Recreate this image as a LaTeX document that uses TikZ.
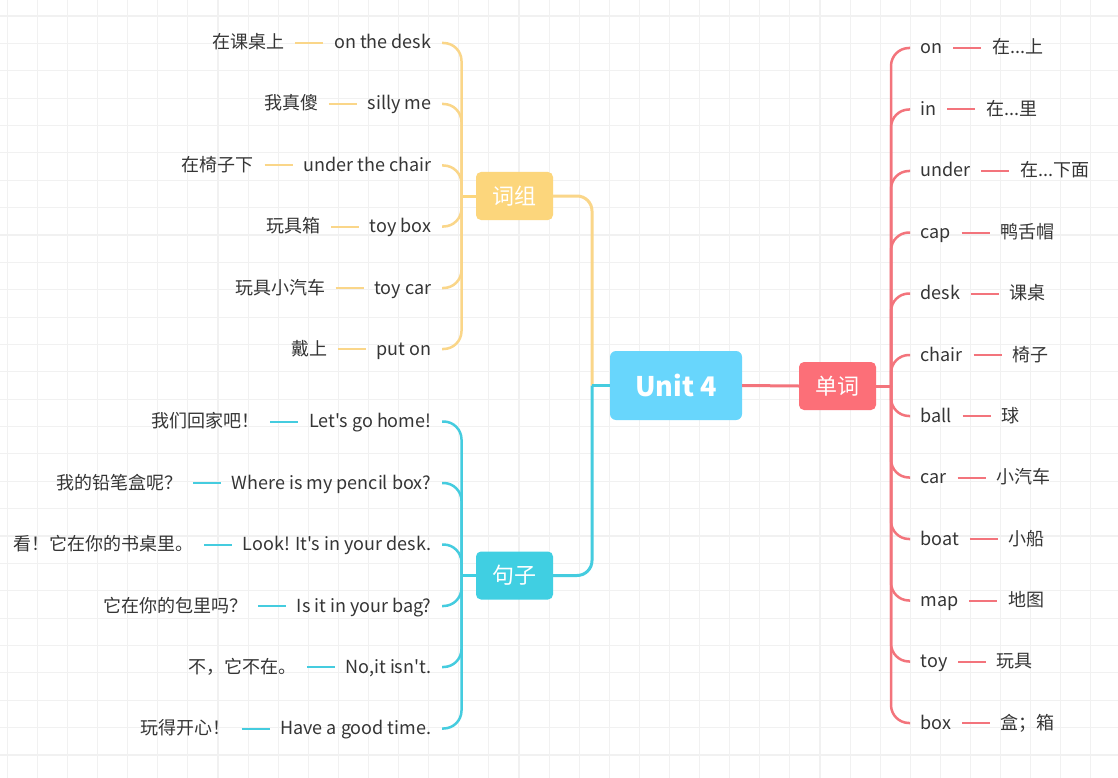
\documentclass[tikz,border=0pt]{standalone}
\usepackage{fontspec}
\newfontfamily\cjk{Noto Sans CJK SC}
\usetikzlibrary{positioning}
\definecolor{gridc}{HTML}{F1F1F1}
\definecolor{txt}{HTML}{353535}
\definecolor{ubox}{HTML}{68D6FC}
\definecolor{ybox}{HTML}{FCD67C}
\definecolor{tbox}{HTML}{40CFE2}
\definecolor{rbox}{HTML}{FC6F78}
\definecolor{yl}{HTML}{FAD689}
\definecolor{tl}{HTML}{45CCDF}
\definecolor{rl}{HTML}{F3747C}
\tikzset{
  gridline/.style={draw=gridc, line width=1.1pt},
  topbox/.style={rounded corners=5pt, text=white, inner sep=0pt, font=\cjk\fontsize{22}{22}\selectfont, minimum width=77pt, minimum height=48pt},
  leaf/.style={text=txt, font=\cjk\fontsize{18}{18}\selectfont, inner xsep=10.5pt, inner ysep=0pt, text height=15pt, text depth=3pt},
  mainline/.style={line width=3pt},
  brline/.style={line width=2.5pt, rounded corners=18pt},
  shortline/.style={line width=2pt},
}
\begin{document}
\begin{tikzpicture}[x=1pt,y=-1pt]
\useasboundingbox (0,0) rectangle (1118,778);
\fill[white] (0,0) rectangle (1118,778);
\foreach \i in {0,...,36} \draw[gridline] ({7.3+30.1*\i},0) -- ({7.3+30.1*\i},778);
\foreach \j in {0,...,28} \draw[gridline] (0,{16+27.37*\j}) -- (1118,{16+27.37*\j});

% central and main nodes
\node[rounded corners=6pt, fill=ubox, text=white, inner sep=0pt, minimum width=132pt, minimum height=69pt, font=\cjk\bfseries\fontsize{27}{27}\selectfont] (u) at (676,385.5) {Unit 4};
\node[topbox, fill=ybox] (cz) at (514.5,196) {词组};
\node[topbox, fill=tbox] (jz) at (514.5,575.5) {句子};
\node[topbox, fill=rbox] (dc) at (837.5,386) {单词};

\coordinate (jl) at (592,385.5);
\coordinate (jcz) at (461.5,196);
\coordinate (jjz) at (461.5,575.5);
\coordinate (jdc) at (891,386);

% main connectors
\draw[mainline, draw=yl, rounded corners=15pt] (jl) |- (cz.east);
\draw[mainline, draw=tl, rounded corners=15pt] (jl) |- (jz.east);
\draw[mainline, draw=tl] (u.west) -- (jl);
\draw[mainline, draw=rl] (u.east) -- (dc.west);
\draw[mainline, draw=ybox] (cz.west) -- (jcz);
\draw[mainline, draw=tbox] (jz.west) -- (jjz);
\draw[mainline, draw=rl] (dc.east) -- (jdc);

% left yellow leaves
\foreach \n/\y/\en/\cn in {1/43/{on the desk}/{在课桌上}, 2/104/{silly me}/{我真傻}, 3/165.5/{under the chair}/{在椅子下}, 4/226.5/{toy box}/{玩具箱}, 5/288/{toy car}/{玩具小汽车}, 6/349/{put on}/{戴上}}{
  \node[leaf, anchor=east] (ye\n) at (442,\y) {\en};
  \node[leaf, left=28pt of ye\n] (yc\n) {\cn};
  \draw[shortline, draw=yl] (yc\n) -- (ye\n);
  \draw[brline, draw=yl] (jcz) |- (ye\n.east);
}

% left teal leaves
\foreach \n/\y/\en/\cn in {1/421.5/{Let's go home!}/{我们回家吧！}, 2/483/{Where is my pencil box?}/{我的铅笔盒呢？}, 3/544.5/{Look! It's in your desk.}/{看！它在你的书桌里。}, 4/606/{Is it in your bag?}/{它在你的包里吗？}, 5/667/{No,it isn't.}/{不，它不在。}, 6/728.5/{Have a good time.}/{玩得开心！}}{
  \node[leaf, anchor=east] (te\n) at (442,\y) {\en};
  \node[leaf, left=28pt of te\n] (tc\n) {\cn};
  \draw[shortline, draw=tl] (tc\n) -- (te\n);
  \draw[brline, draw=tl] (jjz) |- (te\n.east);
}

% right red leaves
\foreach \n/\y/\en/\cn in {1/48/{on}/{在...上}, 2/109.5/{in}/{在...里}, 3/171/{under}/{在...下面}, 4/232.5/{cap}/{鸭舌帽}, 5/293.5/{desk}/{课桌}, 6/355/{chair}/{椅子}, 7/416/{ball}/{球}, 8/477.5/{car}/{小汽车}, 9/539/{boat}/{小船}, 10/600.5/{map}/{地图}, 11/661.5/{toy}/{玩具}, 12/723/{box}/{盒；箱}}{
  \node[leaf, anchor=west] (re\n) at (910,\y) {\en};
  \node[leaf, right=28pt of re\n] (rc\n) {\cn};
  \draw[shortline, draw=rl] (re\n) -- (rc\n);
  \draw[brline, draw=rl] (jdc) |- (re\n.west);
}
\end{tikzpicture}
\end{document}
